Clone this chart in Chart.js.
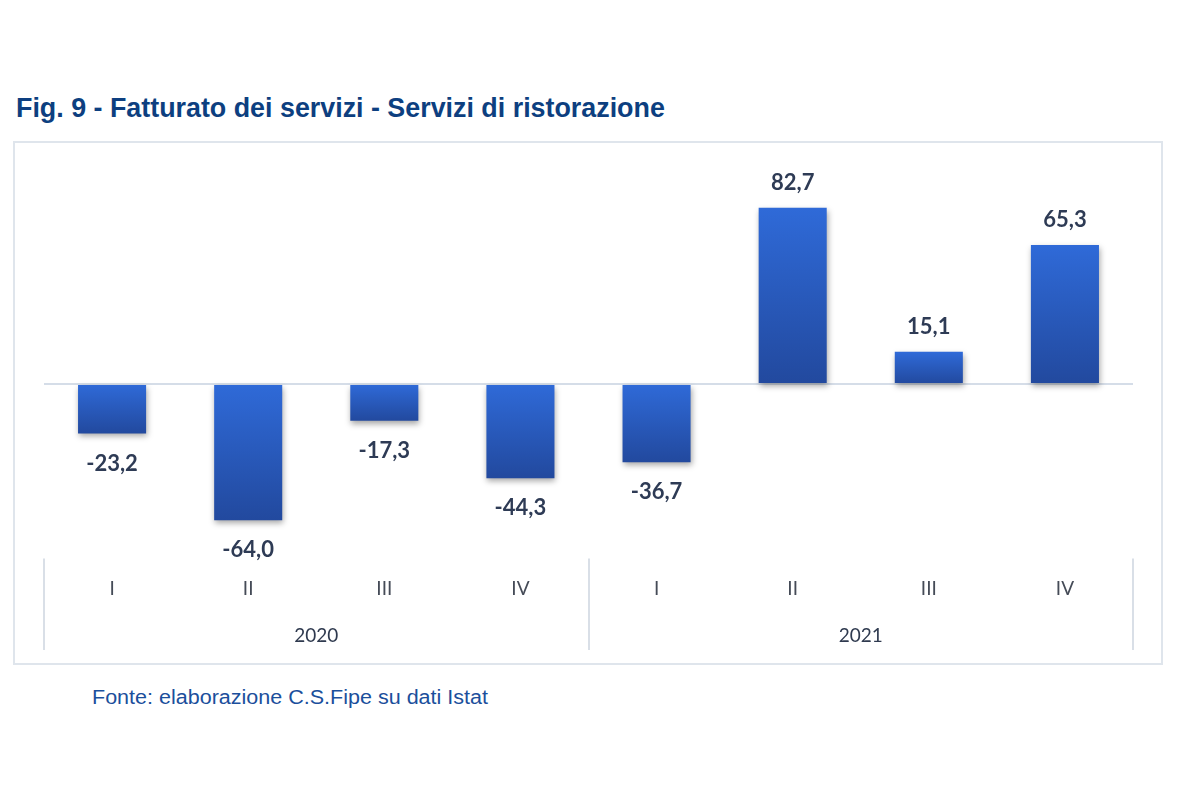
<!DOCTYPE html>
<html>
<head>
<meta charset="utf-8">
<script src="https://cdn.jsdelivr.net/npm/chart.js@4"></script>
<style>
  body { margin: 0; background: #fff; width: 1200px; height: 800px; position: relative; overflow: hidden; }
  #title { position: absolute; left: 16px; top: 92px; font: bold 28px "Liberation Sans", Arial, sans-serif; color: #0d3f80; white-space: nowrap; transform-origin: 0 0; }
  #box { position: absolute; left: 13px; top: 141px; width: 1146px; height: 520px; border: 2px solid #dfe5ec; }
  #note { position: absolute; left: 92px; top: 686px; font: 20px "Liberation Sans", Arial, sans-serif; color: #1b4f9c; white-space: nowrap; transform-origin: 0 0; }
</style>
</head>
<body>
<div id="title">Fig. 9 - Fatturato dei servizi - Servizi di ristorazione</div>
<div id="box"><canvas id="myChart" width="1146" height="520"></canvas></div>
<div id="note">Fonte: elaborazione C.S.Fipe su dati Istat</div>
<script>
const quarters = ['I', 'II', 'III', 'IV', 'I', 'II', 'III', 'IV'];
const years = ['2020', '2021'];
const values = [-23.2, -64.0, -17.3, -44.3, -36.7, 82.7, 15.1, 65.3];

// squeeze the html texts to the widths of the picture
const fit = (id, w) => {
  const el = document.getElementById(id);
  el.style.transform = 'scaleX(' + (w / el.offsetWidth) + ')';
};
fit('title', 649);
fit('note', 396);

const fmt = v => v.toFixed(1).replace('.', ',');

const barGradient = (context) => {
  const chart = context.chart;
  const { ctx, chartArea, scales } = chart;
  if (!chartArea) return '#2b5fc4';
  const y0 = scales.y.getPixelForValue(0);
  const y1 = scales.y.getPixelForValue(context.raw);
  const g = ctx.createLinearGradient(0, Math.min(y0, y1), 0, Math.max(y0, y1));
  g.addColorStop(0, '#2f6ad8');
  g.addColorStop(1, '#22499e');
  return g;
};

const shadowPlugin = {
  id: 'shadow',
  beforeDatasetsDraw(chart) {
    const c = chart.ctx;
    c.save();
    c.shadowColor = 'rgba(0,0,0,0.35)';
    c.shadowBlur = 6;
    c.shadowOffsetX = 1;
    c.shadowOffsetY = 3;
  },
  afterDatasetsDraw(chart) {
    chart.ctx.restore();
  }
};

const labelsPlugin = {
  id: 'valueLabels',
  afterDatasetsDraw(chart) {
    const c = chart.ctx;
    const meta = chart.getDatasetMeta(0);
    c.save();
    c.font = 'bold 22px Lato, sans-serif';
    c.fillStyle = '#2e3b55';
    c.textAlign = 'center';
    c.textBaseline = 'middle';
    meta.data.forEach((bar, i) => {
      const v = values[i];
      const y = v >= 0 ? bar.y - 25 : bar.y + 30;
      c.fillText(fmt(v), bar.x, y);
    });
    c.restore();
  }
};

// vertical separators between the year groups
const groupLines = {
  id: 'groupLines',
  afterDraw(chart) {
    const x = chart.scales.x;
    const x2 = chart.scales.x2;
    const c = chart.ctx;
    c.save();
    c.strokeStyle = '#d9dfe7';
    c.lineWidth = 2;
    [-0.5, 3.5, 7.5].forEach(v => {
      const px = Math.round(x.getPixelForValue(v));
      c.beginPath();
      c.moveTo(px, x.top + 4);
      c.lineTo(px, x2.bottom - 6);
      c.stroke();
    });
    c.restore();
  }
};

const ctx = document.getElementById('myChart').getContext('2d');

const myChart = new Chart(ctx, {
  type: 'bar',
  data: {
    labels: quarters,
    datasets: [{
      data: values,
      backgroundColor: barGradient,
      borderWidth: 0,
      categoryPercentage: 1,
      barPercentage: 0.5
    }]
  },
  options: {
    responsive: false,
    animation: false,
    layout: { padding: { left: 29, right: 28, top: 28, bottom: 7 } },
    plugins: {
      legend: { display: false },
      tooltip: { enabled: false }
    },
    scales: {
      y: {
        min: -80,
        max: 100,
        ticks: { display: false, stepSize: 20 },
        border: { display: false },
        grid: {
          drawTicks: false,
          lineWidth: 2,
          color: (c) => c.tick && c.tick.value === 0 ? '#d5dde8' : 'transparent'
        }
      },
      x: {
        position: 'bottom',
        border: { display: false },
        grid: { display: false },
        ticks: { color: '#454b57', font: { family: 'Lato', size: 19 }, padding: 15 }
      },
      x2: {
        type: 'category',
        labels: years,
        position: 'bottom',
        offset: true,
        border: { display: false },
        grid: { display: false, drawTicks: false },
        ticks: { color: '#2f3a4f', font: { family: 'Lato', size: 19 }, padding: 9 }
      }
    }
  },
  plugins: [shadowPlugin, labelsPlugin, groupLines]
});
</script>
</body>
</html>
